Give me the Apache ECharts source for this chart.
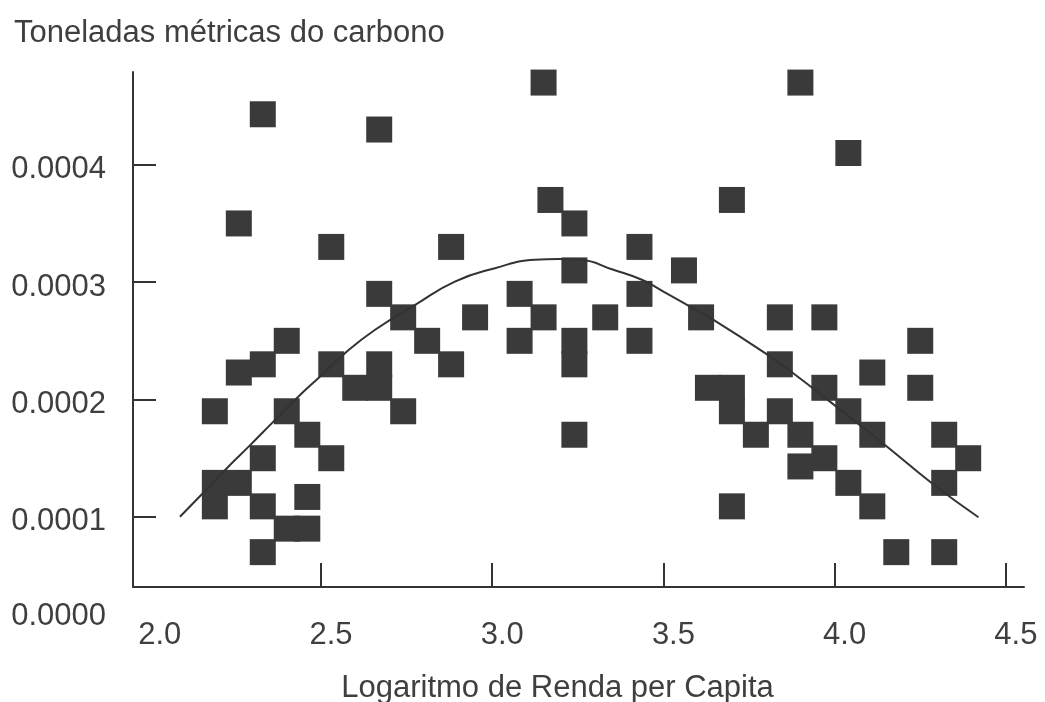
<!DOCTYPE html>
<html>
<head>
<meta charset="utf-8">
<script src="https://cdn.jsdelivr.net/npm/echarts@6/dist/echarts.min.js"></script>
<style>
  html, body { margin: 0; padding: 0; background: #fff; }
  #chart { width: 1045px; height: 702px; }
</style>
</head>
<body>
<div id="chart"></div>
<script>
// pontos do diagrama de dispersão
const rendaLog = [
  2.33, 2.67, 2.26, 2.53, 2.88, 2.67, 2.74, 2.95, 3.08, 3.15,
  3.17, 3.24, 3.24, 3.15, 3.08, 3.24, 3.24, 3.24, 3.33, 3.43,
  3.43, 3.43, 3.56, 3.61, 3.70, 3.84, 3.90, 4.04, 3.97, 4.25,
  3.84, 3.63, 3.70, 3.70, 3.77, 3.84, 3.90, 3.90, 3.97, 3.97,
  4.04, 4.11, 4.11, 4.04, 4.11, 4.25, 4.32, 4.39, 4.32, 4.18,
  4.32, 3.70, 2.40, 2.26, 2.33, 2.53, 2.60, 2.67, 2.67, 2.74,
  2.81, 2.88, 2.19, 2.40, 2.46, 2.33, 2.53, 2.19, 2.26, 2.19,
  2.33, 2.46, 2.40, 2.46, 2.33
];
const carbono = [
  0.000443, 0.000430, 0.000350, 0.000330, 0.000330, 0.000290, 0.000270, 0.000270, 0.000290, 0.000470,
  0.000370, 0.000350, 0.000310, 0.000270, 0.000250, 0.000250, 0.000230, 0.000170, 0.000270, 0.000330,
  0.000290, 0.000250, 0.000310, 0.000270, 0.000370, 0.000270, 0.000470, 0.000410, 0.000270, 0.000250,
  0.000230, 0.000210, 0.000210, 0.000190, 0.000170, 0.000190, 0.000170, 0.000143, 0.000150, 0.000210,
  0.000190, 0.000223, 0.000170, 0.000129, 0.000109, 0.000210, 0.000170, 0.000150, 0.000129, 0.000070,
  0.000070, 0.000109, 0.000250, 0.000223, 0.000230, 0.000230, 0.000210, 0.000230, 0.000210, 0.000190,
  0.000250, 0.000230, 0.000190, 0.000190, 0.000170, 0.000150, 0.000150, 0.000129, 0.000129, 0.000109,
  0.000109, 0.000117, 0.000090, 0.000090, 0.000070
];

// curva ajustada (pontos lidos ao longo da linha)
const curvaX = [2.088, 2.155, 2.225, 2.291, 2.361, 2.429, 2.499, 2.570, 2.658, 2.775, 2.891, 3.008, 3.125,
  3.193, 3.256, 3.354, 3.437, 3.500, 3.578, 3.646, 3.797, 3.879, 4.011, 4.147, 4.284, 4.420];
const curvaY = [0.0001002, 0.0001202, 0.0001415, 0.0001605, 0.0001812, 0.0002011, 0.0002201, 0.0002395,
  0.0002594, 0.0002807, 0.0003005, 0.0003119, 0.0003190, 0.0003196, 0.0003190, 0.0003105, 0.0003020,
  0.0002920, 0.0002792, 0.0002679, 0.0002395, 0.0002224, 0.0001926, 0.0001613, 0.0001287, 0.0000997];

// eixos
const xMin = 1.951, xMax = 4.553;
const yMin = 0.0000403, yMax = 0.000479;
const xTicks = [2.5, 3.0, 3.5, 4.0, 4.5];
const xLabels = [2.0, 2.5, 3.0, 3.5, 4.0, 4.5];
const yTicks = [0.0001, 0.0002, 0.0003, 0.0004];
const yLabels = [yMin, 0.0001, 0.0002, 0.0003, 0.0004];

const font = "'Liberation Sans', Arial, sans-serif";
const textColor = '#3f3f3f';

const chart = echarts.init(document.getElementById('chart'));

const option = {
  backgroundColor: '#fff',
  animation: false,
  title: {
    text: 'Toneladas métricas do carbono',
    left: 9,
    top: 13,
    textStyle: { fontFamily: font, fontSize: 31, fontWeight: 'normal', color: textColor }
  },
  grid: { left: 133, right: 21, top: 72, bottom: 115, outerBoundsMode: 'none' },
  xAxis: {
    type: 'value',
    min: xMin,
    max: xMax,
    name: 'Logaritmo de Renda per Capita',
    nameLocation: 'middle',
    nameGap: 86,
    nameTextStyle: { fontFamily: font, fontSize: 31, color: textColor, padding: [0, 42, 0, 0] },
    axisLine: { show: true, lineStyle: { color: '#333', width: 2 } },
    axisTick: { show: true, inside: true, length: 24, customValues: xTicks, lineStyle: { color: '#333', width: 2 } },
    axisLabel: {
      customValues: xLabels,
      margin: 33,
      fontFamily: font,
      fontSize: 31,
      color: textColor,
      padding: [0, 0, 0, 20],
      formatter: v => v.toFixed(1)
    },
    splitLine: { show: false }
  },
  yAxis: {
    type: 'value',
    min: yMin,
    max: yMax,
    axisLine: { show: true, lineStyle: { color: '#333', width: 2 } },
    axisTick: { show: true, inside: true, length: 23, customValues: yTicks, lineStyle: { color: '#333', width: 2 } },
    axisLabel: {
      customValues: yLabels,
      margin: 27,
      fontFamily: font,
      fontSize: 31,
      color: textColor,
      formatter: v => Math.abs(v - yMin) < 1e-9 ? '{zero|0.0000}' : '{n|' + v.toFixed(4) + '}',
      rich: {
        n: { fontFamily: font, fontSize: 31, color: textColor, padding: [10, 0, 0, 0] },
        zero: { fontFamily: font, fontSize: 31, color: textColor, padding: [58, 0, 0, 0] }
      }
    },
    splitLine: { show: false }
  },
  series: [
    {
      name: 'pontos',
      type: 'scatter',
      symbol: 'rect',
      symbolSize: 26,
      itemStyle: { color: '#3a3a3a', opacity: 1 },
      data: rendaLog.map((x, i) => [x, carbono[i]]),
      z: 2
    },
    {
      name: 'curva',
      type: 'line',
      smooth: true,
      showSymbol: false,
      lineStyle: { color: '#333', width: 2 },
      data: curvaX.map((x, i) => [x, curvaY[i]]),
      z: 3
    }
  ]
};

chart.setOption(option);
</script>
</body>
</html>
